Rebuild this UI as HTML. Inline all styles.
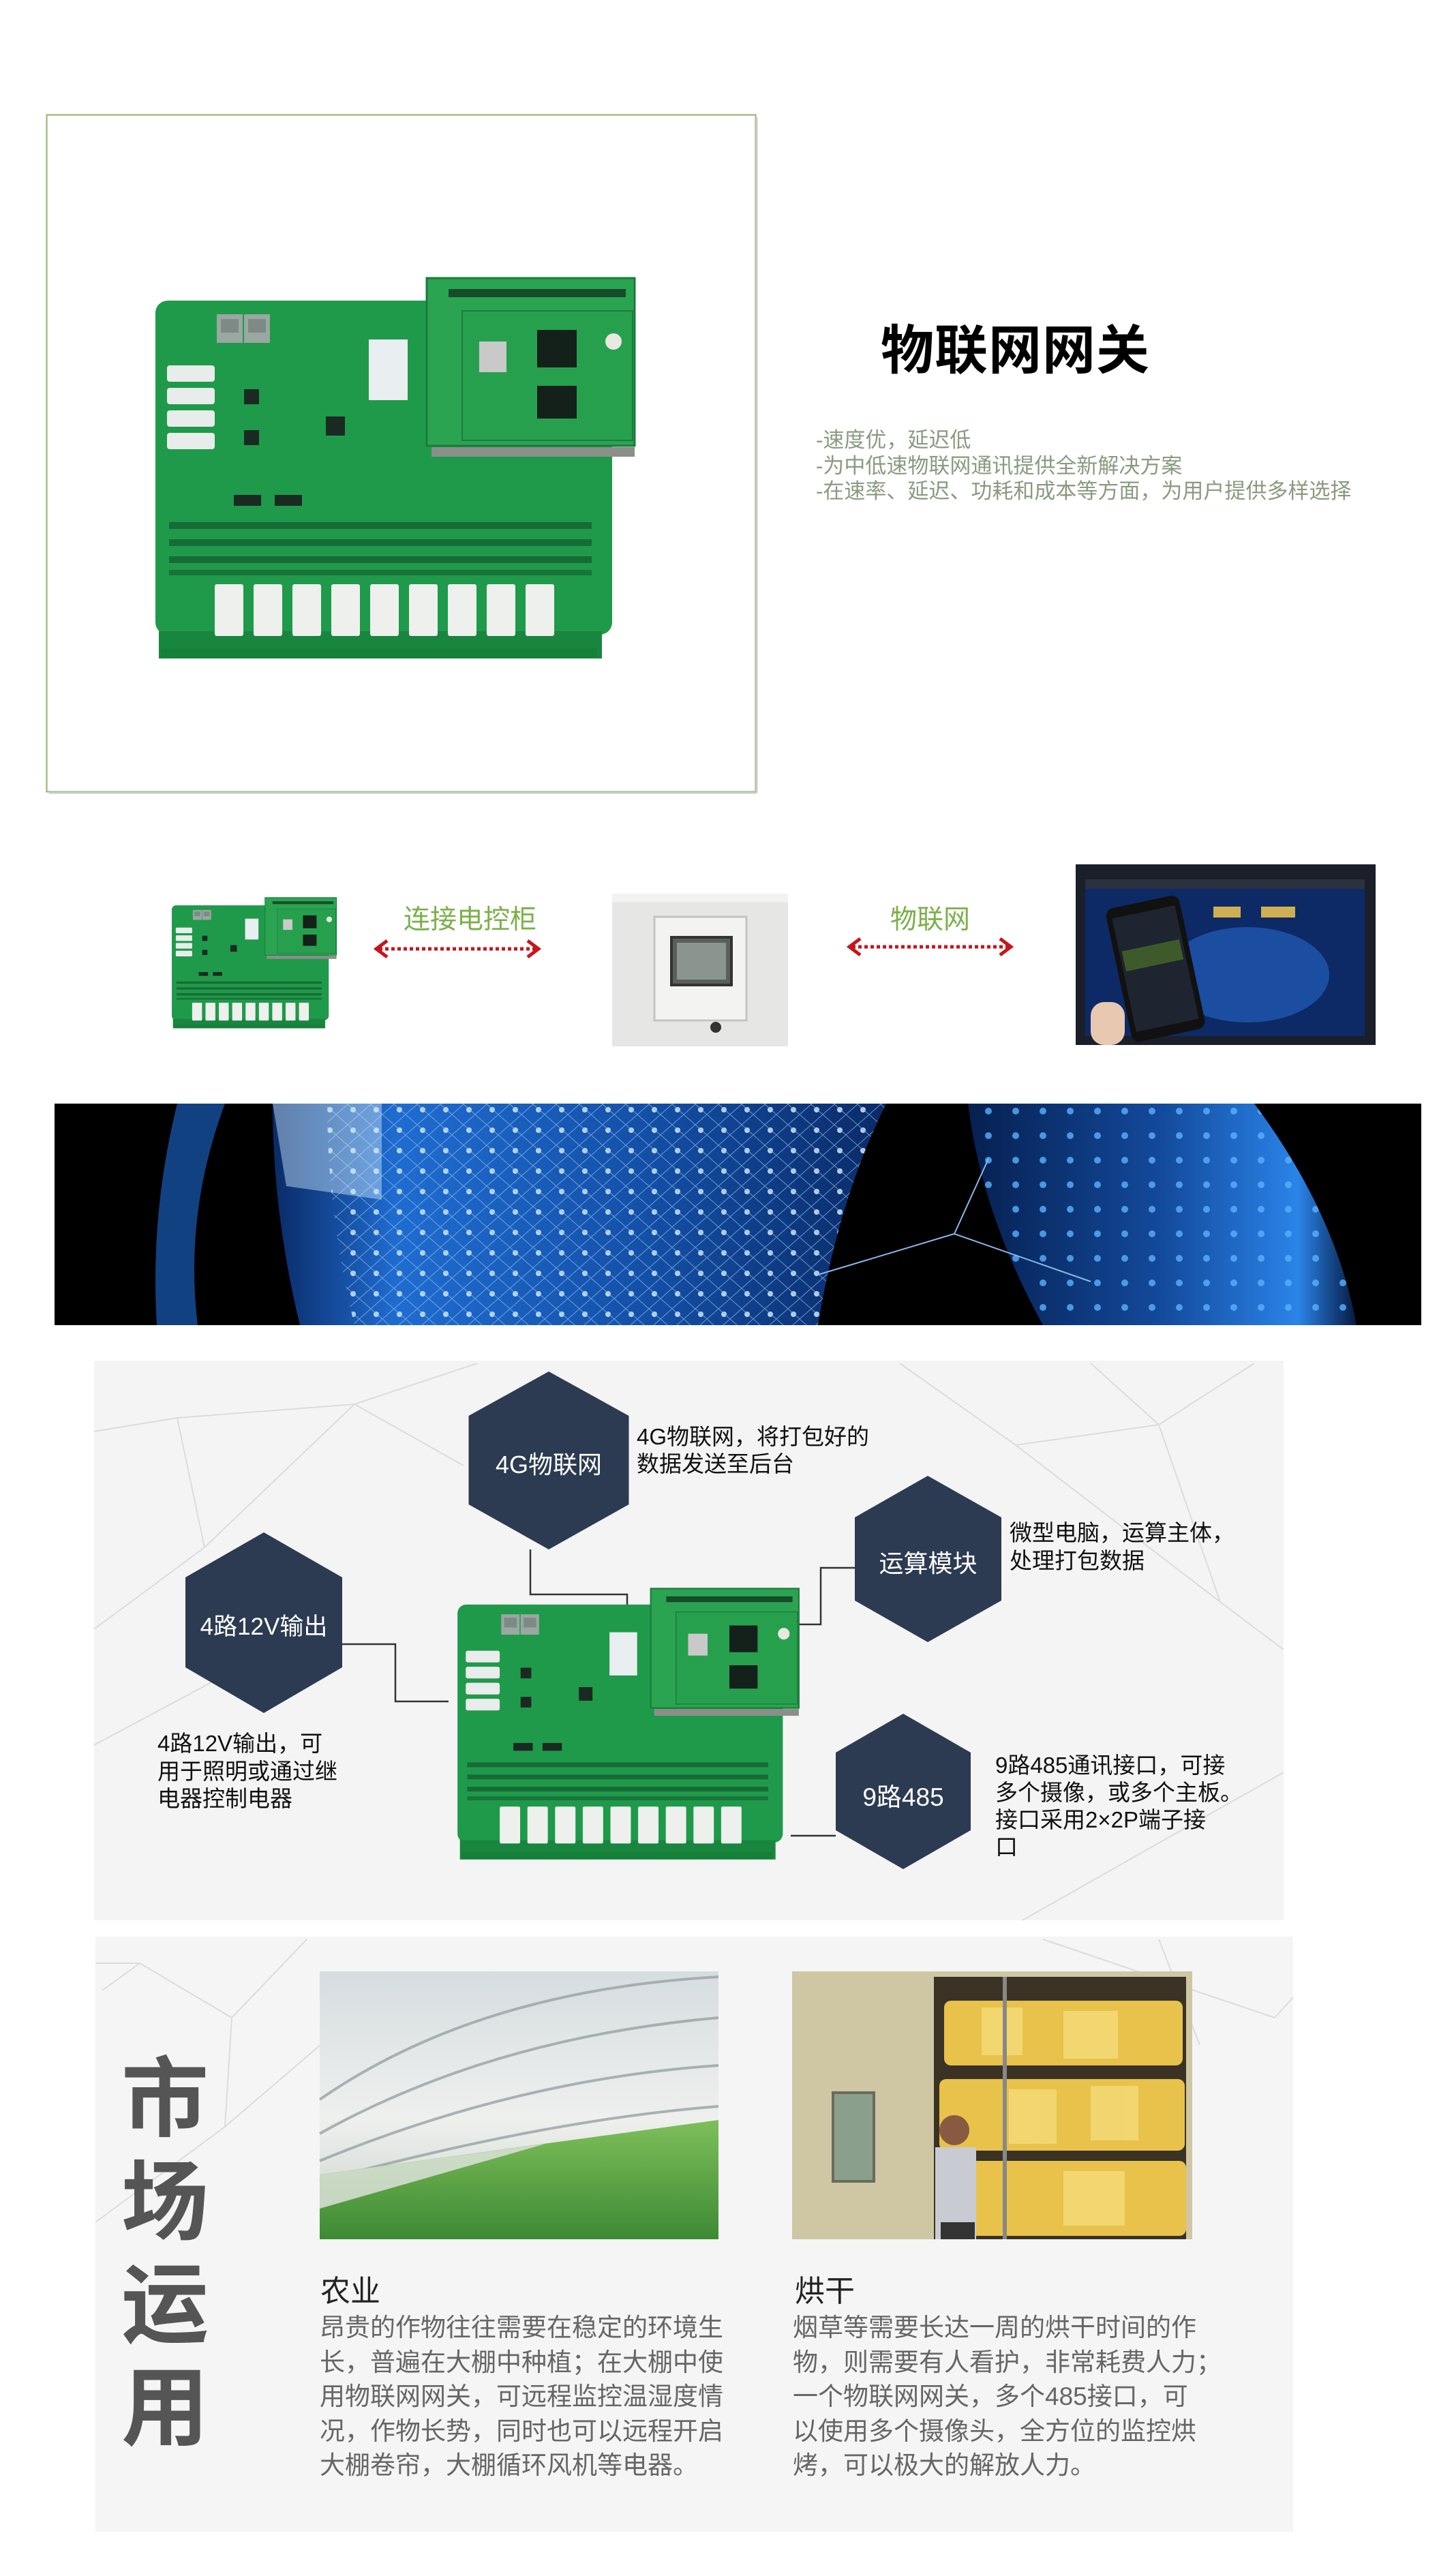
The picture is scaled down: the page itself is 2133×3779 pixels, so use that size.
<!DOCTYPE html>
<html><head><meta charset="utf-8">
<style>
*{margin:0;padding:0;box-sizing:border-box}
body{width:2133px;height:3779px;background:#fff;position:relative;overflow:hidden;font-family:"Liberation Sans","Noto Sans CJK SC",sans-serif}
.t{position:absolute;white-space:nowrap}
svg.main{position:absolute;left:0;top:0}
</style></head><body>
<svg class="main" width="2133" height="3779" viewBox="0 0 2133 3779">
<defs>
<symbol id="pcb" viewBox="0 0 710 570">
  <rect x="0" y="35" width="670" height="490" rx="18" fill="#1f9a4a"/>
  <rect x="5" y="520" width="650" height="40" fill="#19863f"/>
  <rect x="8" y="545" width="640" height="14" fill="#158038"/>
  <rect x="90" y="55" width="38" height="42" fill="#9aa7a2"/><rect x="130" y="55" width="38" height="42" fill="#9aa7a2"/>
  <rect x="96" y="62" width="26" height="20" fill="#7d8a86"/><rect x="136" y="62" width="26" height="20" fill="#7d8a86"/>
  <g fill="#e8ecea"><rect x="17" y="130" width="70" height="24" rx="4"/><rect x="17" y="163" width="70" height="24" rx="4"/><rect x="17" y="196" width="70" height="24" rx="4"/><rect x="17" y="229" width="70" height="24" rx="4"/></g>
  <rect x="313" y="92" width="57" height="89" fill="#e9eef0"/>
  <g fill="#1a2a22"><rect x="130" y="165" width="22" height="22"/><rect x="130" y="225" width="22" height="22"/><rect x="250" y="205" width="28" height="28"/><rect x="115" y="320" width="40" height="16"/><rect x="175" y="320" width="40" height="16"/></g>
  <g fill="#0f3d22">
   <rect x="20" y="360" width="620" height="10" opacity=".5"/><rect x="20" y="385" width="620" height="10" opacity=".5"/><rect x="20" y="410" width="620" height="10" opacity=".5"/><rect x="20" y="430" width="620" height="8" opacity=".4"/>
  </g>
  <g fill="#eef0ee">
   <rect x="87" y="451" width="42" height="76" rx="3"/><rect x="144" y="451" width="42" height="76" rx="3"/><rect x="201" y="451" width="42" height="76" rx="3"/><rect x="258" y="451" width="42" height="76" rx="3"/><rect x="315" y="451" width="42" height="76" rx="3"/><rect x="372" y="451" width="42" height="76" rx="3"/><rect x="429" y="451" width="42" height="76" rx="3"/><rect x="486" y="451" width="42" height="76" rx="3"/><rect x="543" y="451" width="42" height="76" rx="3"/>
  </g>
  <rect x="398" y="2" width="305" height="246" fill="#2ba452" stroke="#1b7a3a" stroke-width="3"/>
  <rect x="405" y="250" width="298" height="14" fill="#8a8f8a"/>
  <rect x="430" y="18" width="260" height="12" fill="#174c2a"/>
  <rect x="450" y="50" width="250" height="190" fill="#27a04e" stroke="#1c7c3c" stroke-width="2"/>
  <rect x="475" y="95" width="40" height="45" fill="#c9c9c9"/>
  <rect x="560" y="78" width="58" height="55" fill="#14201a"/>
  <rect x="560" y="160" width="58" height="48" fill="#14201a"/>
  <circle cx="672" cy="95" r="12" fill="#e8e8e0"/>
</symbol>
<linearGradient id="sky" x1="0" y1="0" x2="0" y2="1"><stop offset="0" stop-color="#d6dde0"/><stop offset=".55" stop-color="#eef0ee"/><stop offset="1" stop-color="#c9d0c8"/></linearGradient>
<linearGradient id="grass" x1="0" y1="0" x2="0" y2="1"><stop offset="0" stop-color="#7fbf5a"/><stop offset="1" stop-color="#3d8a34"/></linearGradient>
<linearGradient id="band" x1="0" y1="0" x2="1" y2="0"><stop offset="0" stop-color="#0a2a66"/><stop offset=".2" stop-color="#1f6cd0"/><stop offset=".6" stop-color="#1450a8"/><stop offset="1" stop-color="#0a2a66"/></linearGradient>
<linearGradient id="band2" x1="0" y1="0" x2="1" y2="0"><stop offset="0" stop-color="#062050"/><stop offset=".5" stop-color="#134a9c"/><stop offset=".85" stop-color="#2a84e8"/><stop offset="1" stop-color="#061a40"/></linearGradient>
<pattern id="dots" width="34" height="30" patternUnits="userSpaceOnUse"><circle cx="8" cy="8" r="4" fill="#d6eeff"/><path d="M0 0 L34 30 M34 0 L0 30" stroke="#8fc0f0" stroke-width="1.2" opacity=".7"/></pattern>
<pattern id="dots2" width="40" height="36" patternUnits="userSpaceOnUse"><circle cx="10" cy="10" r="5" fill="#5ab0ff" opacity=".8"/></pattern>
</defs>

<rect x="68.5" y="168.5" width="1040" height="993" fill="#fff" stroke="#8fb36a" stroke-width="2"/>
<line x1="72" y1="1163" x2="1110" y2="1163" stroke="#ccc" stroke-width="3"/>
<line x1="1110" y1="172" x2="1110" y2="1163" stroke="#ccc" stroke-width="3"/>
<use href="#pcb" x="228" y="406" width="710" height="570"/>

<use href="#pcb" x="252" y="1316" width="244" height="196"/>
<g stroke="#c4161c" fill="none" stroke-width="5">
 <line x1="556" y1="1392" x2="786" y2="1392" stroke-dasharray="5 4"/>
 <polyline points="568,1380 552,1392 568,1404"/><polyline points="774,1380 790,1392 774,1404"/>
 <line x1="1250" y1="1389" x2="1479" y2="1389" stroke-dasharray="5 4"/>
 <polyline points="1262,1377 1246,1389 1262,1401"/><polyline points="1467,1377 1483,1389 1467,1401"/>
</g>
<rect x="898" y="1311" width="258" height="224" fill="#e6e6e4"/>
<rect x="898" y="1311" width="258" height="12" fill="#f2f2f0"/>
<rect x="960" y="1345" width="135" height="152" fill="#f3f3f1" stroke="#c4c4c2" stroke-width="3"/>
<rect x="985" y="1375" width="88" height="70" fill="#5a5f5a" stroke="#333" stroke-width="4"/>
<rect x="993" y="1383" width="72" height="54" fill="#8a9590"/>
<circle cx="1050" cy="1507" r="8" fill="#333"/>
<rect x="1578" y="1268" width="440" height="265" fill="#1a1f2a"/>
<rect x="1592" y="1290" width="410" height="230" fill="#0d2a66"/>
<ellipse cx="1830" cy="1430" rx="120" ry="70" fill="#1b4ea0"/>
<rect x="1592" y="1290" width="410" height="14" fill="#2a3140"/>
<g fill="#ffd24d"><rect x="1780" y="1330" width="40" height="16" opacity=".8"/><rect x="1850" y="1330" width="50" height="16" opacity=".8"/></g>
<g transform="rotate(-12 1700 1420)"><rect x="1640" y="1320" width="110" height="200" rx="12" fill="#111"/><rect x="1648" y="1335" width="94" height="170" fill="#1e2430"/><rect x="1652" y="1385" width="86" height="30" fill="#3f5a2a"/></g>
<rect x="1600" y="1470" width="50" height="63" rx="20" fill="#e8c8b0"/>

<!-- globe banner -->
<rect x="80" y="1619" width="2005" height="325" fill="#000"/>
<path d="M260 1619 L330 1619 Q270 1780 290 1944 L230 1944 Q220 1780 260 1619Z" fill="#1a5cb8" opacity=".7"/>
<path d="M400 1619 L1300 1619 Q1230 1760 1200 1944 L440 1944 Q400 1780 400 1619Z" fill="url(#band)"/>
<path d="M480 1619 L1300 1619 Q1230 1760 1200 1944 L520 1944 Q480 1780 480 1619Z" fill="url(#dots)" opacity=".85"/>
<path d="M400 1619 L560 1619 L560 1760 L420 1740Z" fill="#cfeaff" opacity=".45"/>
<path d="M1420 1619 L1840 1619 Q1960 1780 1990 1944 L1530 1944 Q1440 1780 1420 1619Z" fill="url(#band2)"/>
<path d="M1420 1619 L1840 1619 Q1960 1780 1990 1944 L1530 1944 Q1440 1780 1420 1619Z" fill="url(#dots2)"/>
<path d="M1200 1870 L1400 1810 L1600 1880 M1400 1810 L1450 1700" stroke="#8ab8ea" stroke-width="2" fill="none"/>

<!-- section 4 -->
<rect x="138" y="1996" width="1745" height="821" fill="#f4f4f4"/>
<g stroke="#dcdcdc" stroke-width="2" fill="none">
 <path d="M138 2100 L260 2080 L520 2060 L700 2000 M260 2080 L300 2270 L138 2390 M300 2270 L520 2060 M520 2060 L680 2150"/>
 <path d="M1320 2000 L1490 2120 L1700 2090 L1840 2000 M1490 2120 L1790 2350 L1883 2420 M1700 2090 L1790 2350 M1700 2090 L1600 2000"/>
 <path d="M138 2560 L400 2420 M1500 2817 L1883 2600"/>
</g>
<polygon points="805,2012 922.5,2077 922.5,2207 805,2273 687.5,2207 687.5,2077" fill="#2c3a52"/>
<polygon points="387,2248 502,2314 502,2446 387,2513 272,2446 272,2314" fill="#2c3a52"/>
<polygon points="1361,2165 1469,2226 1469,2348 1361,2409 1254,2348 1254,2226" fill="#2c3a52"/>
<polygon points="1325,2514 1424,2571 1424,2685 1325,2742 1226,2685 1226,2571" fill="#2c3a52"/>
<g stroke="#333" stroke-width="2.5" fill="none">
 <polyline points="778,2273 778,2339 920,2339 920,2358"/>
 <polyline points="502,2412 580,2412 580,2496 658,2496"/>
 <polyline points="1254,2300 1204,2300 1204,2383 1167,2383"/>
 <line x1="1160" y1="2693" x2="1226" y2="2693"/>
</g>
<use href="#pcb" x="671" y="2329" width="506" height="406"/>

<!-- section 5 -->
<rect x="140" y="2841" width="1757" height="873" fill="#f5f5f5"/>
<g stroke="#dcdcdc" stroke-width="2" fill="none">
 <path d="M140 2880 L205 2880 L340 2960 L450 2845 M205 2880 L150 2920 M340 2960 L330 3120 L140 3260 M330 3120 L470 3000"/>
 <path d="M1530 2845 L1870 2960 L1897 2930 M1700 2845 L1760 3000"/>
</g>
<rect x="469" y="2892" width="585" height="393" fill="url(#sky)"/>
<g stroke="#9aa2a4" stroke-width="4" fill="none" opacity=".8">
 <path d="M469 3080 Q700 2920 1054 2900"/><path d="M469 3130 Q720 2990 1054 2960"/><path d="M469 3170 Q760 3050 1054 3030"/><path d="M469 3200 Q800 3110 1054 3090"/>
</g>
<path d="M469 3190 L1054 3110 L1054 3285 L469 3285Z" fill="url(#grass)"/>
<path d="M469 3190 L800 3145 L469 3240Z" fill="#e3e6e2" opacity=".8"/>
<rect x="1162" y="2892" width="587" height="393" fill="#cfc7a3"/>
<rect x="1370" y="2900" width="370" height="385" fill="#3a3224"/>
<g fill="#e8c24a">
 <rect x="1385" y="2935" width="350" height="95" rx="10"/>
 <rect x="1378" y="3050" width="360" height="105" rx="10"/>
 <rect x="1375" y="3170" width="365" height="110" rx="10"/>
</g>
<g fill="#f4dc7a" opacity=".8"><rect x="1440" y="2945" width="60" height="70"/><rect x="1560" y="2950" width="80" height="70"/><rect x="1480" y="3065" width="70" height="80"/><rect x="1600" y="3060" width="70" height="80"/><rect x="1560" y="3185" width="90" height="80"/></g>
<rect x="1471" y="2900" width="6" height="385" fill="#888"/>
<rect x="1222" y="3070" width="60" height="130" fill="#8aa08c" stroke="#6a6a60" stroke-width="4"/>
<rect x="1372" y="3150" width="60" height="135" fill="#c8ccd2"/>
<circle cx="1400" cy="3125" r="22" fill="#8a5a40"/>
<rect x="1380" y="3260" width="50" height="25" fill="#333"/>
</svg>

<div class="t" style="left:1292px;top:452px;font-size:78px;font-weight:bold;color:#000;letter-spacing:1px">物联网网关</div>
<div class="t" style="left:1197px;top:627px;font-size:31px;line-height:37.5px;color:#8a9a80">-速度优，延迟低<br>-为中低速物联网通讯提供全新解决方案<br>-在速率、延迟、功耗和成本等方面，为用户提供多样选择</div>

<div class="t" style="left:592px;top:1318px;font-size:39px;color:#7bb04a">连接电控柜</div>
<div class="t" style="left:1306px;top:1318px;font-size:39px;color:#7bb04a">物联网</div>

<div class="t" style="left:687px;top:2120px;width:236px;text-align:center;font-size:36px;color:#fff">4G物联网</div>
<div class="t" style="left:272px;top:2358px;width:230px;text-align:center;font-size:35px;color:#fff">4路12V输出</div>
<div class="t" style="left:1254px;top:2265px;width:215px;text-align:center;font-size:36px;color:#fff">运算模块</div>
<div class="t" style="left:1226px;top:2606px;width:198px;text-align:center;font-size:37px;color:#fff">9路485</div>

<div class="t" style="left:934px;top:2088px;font-size:33px;line-height:40px;color:#111">4G物联网，将打包好的<br>数据发送至后台</div>
<div class="t" style="left:1481px;top:2228px;font-size:33px;line-height:41px;color:#111">微型电脑，运算主体，<br>处理打包数据</div>
<div class="t" style="left:231px;top:2538px;font-size:33px;line-height:40.5px;color:#111">4路12V输出，可<br>用于照明或通过继<br>电器控制电器</div>
<div class="t" style="left:1460px;top:2570px;font-size:33px;line-height:40px;color:#111">9路485通讯接口，可接<br>多个摄像，或多个主板。<br>接口采用2×2P端子接<br>口</div>

<div class="t" style="left:178px;top:3005px;font-size:128px;line-height:151px;font-weight:bold;color:#555;white-space:normal;width:140px">市<br>场<br>运<br>用</div>

<div class="t" style="left:470px;top:3325px;font-size:44px;color:#222">农业</div>
<div class="t" style="left:1166px;top:3325px;font-size:44px;color:#222">烘干</div>
<div class="t" style="left:469px;top:3390px;font-size:37px;line-height:50.5px;color:#666">昂贵的作物往往需要在稳定的环境生<br>长，普遍在大棚中种植；在大棚中使<br>用物联网网关，可远程监控温湿度情<br>况，作物长势，同时也可以远程开启<br>大棚卷帘，大棚循环风机等电器。</div>
<div class="t" style="left:1163px;top:3390px;font-size:37px;line-height:50.5px;color:#666">烟草等需要长达一周的烘干时间的作<br>物，则需要有人看护，非常耗费人力；<br>一个物联网网关，多个485接口，可<br>以使用多个摄像头，全方位的监控烘<br>烤，可以极大的解放人力。</div>
</body></html>
